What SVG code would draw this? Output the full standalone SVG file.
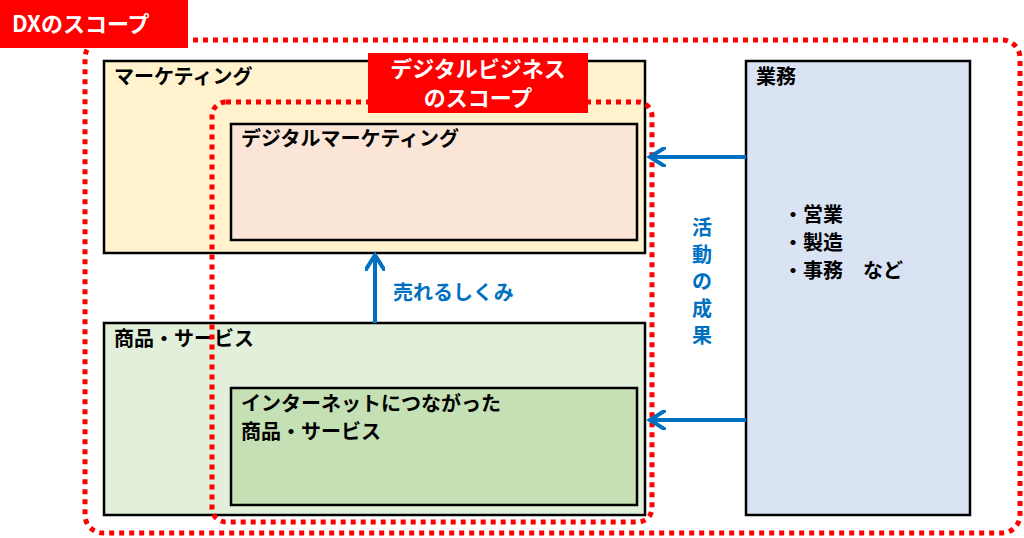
<svg xmlns="http://www.w3.org/2000/svg" width="1024" height="538" viewBox="0 0 1024 538">
<style>
text{font-family:"Noto Sans CJK JP","Noto Sans",sans-serif;font-weight:bold}
.box{stroke:#000;stroke-width:2.5}
.dot{fill:none;stroke:#f00;stroke-width:5;stroke-dasharray:5 5}
.lbl{font-size:20px;fill:#000}
.w{fill:#fff;font-size:22px}
.b{fill:#0070c0;font-size:20px}
.arr{stroke:#0070c0;stroke-width:4;fill:none}
</style>
<defs><marker id="ah" viewBox="0 0 10 10" refX="6" refY="5" markerWidth="5" markerHeight="5" orient="auto"><path d="M0,0 L8,5 L0,10" fill="none" stroke="#0070c0" stroke-width="2"/></marker></defs>
<rect width="1024" height="538" fill="#fff"/>
<g id="marketing"><rect class="box" x="104" y="61" width="541" height="192" fill="#fff2cc"/><text class="lbl" x="114" y="84">マーケティング</text></g>
<g id="shohin"><rect class="box" x="104" y="323" width="541" height="192" fill="#e2efda"/><text class="lbl" x="114" y="346">商品・サービス</text></g>
<g id="digimkt"><rect class="box" x="231" y="124" width="406" height="116" fill="#fbe5d6"/><text class="lbl" x="241" y="146">デジタルマーケティング</text></g>
<g id="iot"><rect class="box" x="231" y="388" width="406" height="117" fill="#c5e0b4"/><text class="lbl" x="241" y="411">インターネットにつながった</text><text class="lbl" x="241" y="439">商品・サービス</text></g>
<g id="gyomu"><rect class="box" x="746" y="61" width="224" height="454" fill="#dae3f3"/><text class="lbl" x="756" y="84">業務</text><text class="lbl" x="783" y="222">・営業</text><text class="lbl" x="783" y="250">・製造</text><text class="lbl" x="783" y="278">・事務　など</text></g>
<g id="dxscope"><rect class="dot" x="85" y="40" width="935" height="493" rx="18"/><rect x="0" y="0" width="188" height="48" fill="#f00"/><text class="w" x="12" y="32">DXのスコープ</text></g>
<g id="dbscope"><rect class="dot" x="212" y="102" width="440" height="420" rx="14"/><rect x="368" y="53" width="220" height="60" fill="#f00"/><text class="w" x="478" y="77" text-anchor="middle" font-size="21">デジタルビジネス</text><text class="w" x="478" y="106" text-anchor="middle" font-size="21">のスコープ</text></g>
<g id="connectors">
<line class="arr" x1="746" y1="157" x2="654" y2="157" marker-end="url(#ah)"/>
<line class="arr" x1="746" y1="420" x2="654" y2="420" marker-end="url(#ah)"/>
<line class="arr" x1="375" y1="323" x2="375" y2="259" marker-end="url(#ah)"/>
<text class="b" x="393" y="300">売れるしくみ</text>
<text class="b" x="702" y="235" text-anchor="middle">活</text><text class="b" x="702" y="262" text-anchor="middle">動</text><text class="b" x="702" y="289" text-anchor="middle">の</text><text class="b" x="702" y="316" text-anchor="middle">成</text><text class="b" x="702" y="343" text-anchor="middle">果</text>
</g>
</svg>
